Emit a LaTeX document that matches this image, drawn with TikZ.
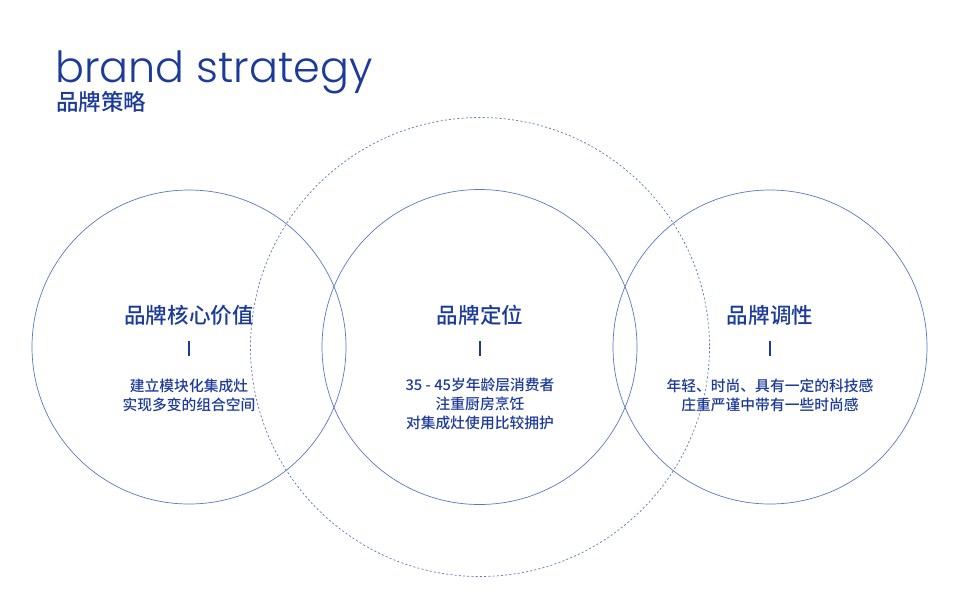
\documentclass[tikz,border=0pt]{standalone}
\usepackage{fontspec}
\setmainfont{Poppins}[UprightFont=* Light]
\newfontfamily\cjk{Noto Sans CJK SC}[UprightFont=* Medium]
\usepackage{tikz}
\usetikzlibrary{positioning}
\usepackage{xcolor}
\definecolor{BrandBlue}{HTML}{1C3A9A}
\definecolor{RingBlue}{HTML}{5C78C2}

\begin{document}
\begin{tikzpicture}[x=0.025cm, y=-0.025cm,
    ring/.style={draw=RingBlue, line width=0.5pt},
    heading/.style={font=\cjk\fontsize{15.3}{18}\selectfont, text=BrandBlue, inner sep=0pt},
    detail/.style={font=\cjk\fontsize{10.5}{13.6}\selectfont, text=BrandBlue, align=center, inner sep=0pt},
    bar/.style={draw=BrandBlue, line width=1.2pt}
  ]
    \useasboundingbox (0, 0) rectangle (960, 600);

    % rings
    \draw[ring, dash pattern=on 1.5pt off 1.5pt] (480, 347) circle (229.5);
    \draw[ring] (189, 347) circle (157);
    \draw[ring] (479.5, 347) circle (157.5);
    \draw[ring] (770, 347) circle (157);

    % title
    \node[anchor=base west, inner sep=0pt, text=BrandBlue, font=\fontsize{30.5}{34}\selectfont] (title) at (55, 82) {brand strategy};
    \node[anchor=west, inner sep=0pt, text=BrandBlue, font=\cjk\fontsize{16}{18}\selectfont] (subtitle) at (56, 102) {品牌策略};

    % left
    \node[heading] (h1) at (189, 315) {品牌核心价值};
    \draw[bar] (189, 341) -- (189, 356);
    \node[detail] (d1) at (189, 395) {建立模块化集成灶\\实现多变的组合空间};

    % middle
    \node[heading] (h2) at (480, 315) {品牌定位};
    \draw[bar] (480, 341) -- (480, 356);
    \node[detail] (d2) at (480, 404) {35 - 45岁年龄层消费者\\注重厨房烹饪\\对集成灶使用比较拥护};

    % right
    \node[heading] (h3) at (770, 315) {品牌调性};
    \draw[bar] (770, 341) -- (770, 356);
    \node[detail] (d3) at (770, 395) {年轻、时尚、具有一定的科技感\\庄重严谨中带有一些时尚感};
  \end{tikzpicture}
\end{document}
